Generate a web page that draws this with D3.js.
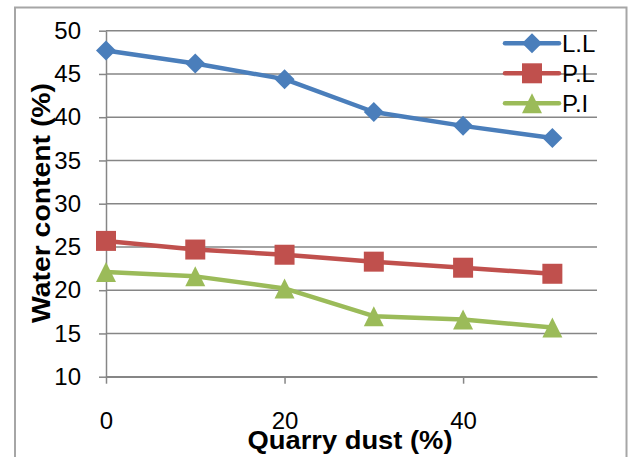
<!DOCTYPE html>
<html>
<head>
<meta charset="utf-8">
<script src="https://cdn.jsdelivr.net/npm/d3@7"></script>
<style>
  body { margin: 0; background: #fff; }
  text { font-family: "Liberation Sans", Arial, sans-serif; fill: #000; }
</style>
</head>
<body>
<div id="container"></div>
<script>
// chart data
const dust = [0, 10, 20, 30, 40, 50]
const liquidLimit = [47.7, 46.2, 44.4, 40.6, 39.0, 37.6]
const plasticLimit = [25.7, 24.7, 24.1, 23.3, 22.6, 21.9]
const plasticityIndex = [22.1, 21.6, 20.2, 17.0, 16.6, 15.7]
const seriesNames = ["L.L", "P.L", "P.I"]
const seriesColours = ["#4a7ebb", "#c0504d", "#9bbb59"]
const seriesMarkers = ["diamond", "square", "triangle"]
const yTicks = [10, 15, 20, 25, 30, 35, 40, 45, 50]
const xTicks = [0, 20, 40]

const width = 632, height = 457
const svg = d3.select("#container").append("svg")
  .attr("width", width)
  .attr("height", height)

// outer chart frame
svg.append("rect")
  .attr("x", 15).attr("y", 7.5)
  .attr("width", 611.5).attr("height", 460)
  .attr("fill", "#fff")
  .attr("stroke", "#a6a6a6")
  .attr("stroke-width", 2)

const x = d3.scaleLinear().domain([0, 55]).range([106, 597])
const y = d3.scaleLinear().domain([10, 50]).range([376.7, 30.7])

// horizontal gridlines
svg.append("g")
  .selectAll("line")
  .data(yTicks)
  .enter()
  .append("line")
    .attr("x1", x(0)).attr("x2", x(55))
    .attr("y1", d => y(d)).attr("y2", d => y(d))
    .attr("stroke", "#868686")
    .attr("stroke-width", 1.5)

// y axis
const yAxis = svg.append("g")
  .attr("transform", `translate(${x(0)},0)`)
  .call(d3.axisLeft(y).tickValues(yTicks).tickSize(7).tickSizeOuter(0).tickPadding(18))
yAxis.selectAll("text").style("font-size", "24px")

// x axis
const xAxis = svg.append("g")
  .attr("transform", `translate(0,${y(10)})`)
  .call(d3.axisBottom(x).tickValues(xTicks).tickSize(7).tickSizeOuter(0).tickPadding(28))
xAxis.selectAll("text").style("font-size", "24px")

svg.selectAll(".domain, .tick line")
  .attr("stroke", "#868686")
  .attr("stroke-width", 1.5)

// marker shapes centred on 0,0
function marker(kind, r) {
  const p = d3.path()
  if (kind === "diamond") {
    p.moveTo(0, -r); p.lineTo(r, 0); p.lineTo(0, r); p.lineTo(-r, 0)
  } else if (kind === "square") {
    p.rect(-r, -r, 2 * r, 2 * r)
  } else {
    p.moveTo(0, -r); p.lineTo(r, r); p.lineTo(-r, r)
  }
  p.closePath()
  return p.toString()
}

const allSeries = [liquidLimit, plasticLimit, plasticityIndex]
const line = d3.line()
  .x((d, i) => x(dust[i]))
  .y(d => y(d))

allSeries.forEach((values, s) => {
  const g = svg.append("g")
  g.append("path")
    .datum(values)
    .attr("d", line)
    .attr("fill", "none")
    .attr("stroke", seriesColours[s])
    .attr("stroke-width", 4.5)
    .attr("stroke-linejoin", "round")
  g.selectAll("path.mark")
    .data(values)
    .enter()
    .append("path")
      .attr("class", "mark")
      .attr("transform", (d, i) => `translate(${x(dust[i])},${y(d)})`)
      .attr("d", marker(seriesMarkers[s], 10))
      .attr("fill", seriesColours[s])
})

// legend
const legend = svg.append("g")
seriesNames.forEach((name, s) => {
  const ly = 43.3 + s * 30
  legend.append("line")
    .attr("x1", 505).attr("x2", 559)
    .attr("y1", ly).attr("y2", ly)
    .attr("stroke", seriesColours[s])
    .attr("stroke-width", 4.5)
    .attr("stroke-linecap", "round")
  legend.append("path")
    .attr("transform", `translate(532,${ly})`)
    .attr("d", marker(seriesMarkers[s], 10))
    .attr("fill", seriesColours[s])
  legend.append("text")
    .attr("x", 562).attr("y", ly)
    .attr("dy", "0.36em")
    .style("font-size", "24px")
    .text(name)
})

// axis titles
svg.append("text")
  .attr("x", 350).attr("y", 449)
  .attr("text-anchor", "middle")
  .attr("textLength", 205)
  .attr("lengthAdjust", "spacingAndGlyphs")
  .style("font-size", "25px")
  .style("font-weight", "bold")
  .text("Quarry dust (%)")

svg.append("text")
  .attr("transform", "translate(50,203) rotate(-90)")
  .attr("text-anchor", "middle")
  .attr("textLength", 240)
  .attr("lengthAdjust", "spacingAndGlyphs")
  .style("font-size", "25px")
  .style("font-weight", "bold")
  .text("Water content (%)")
</script>
</body>
</html>
